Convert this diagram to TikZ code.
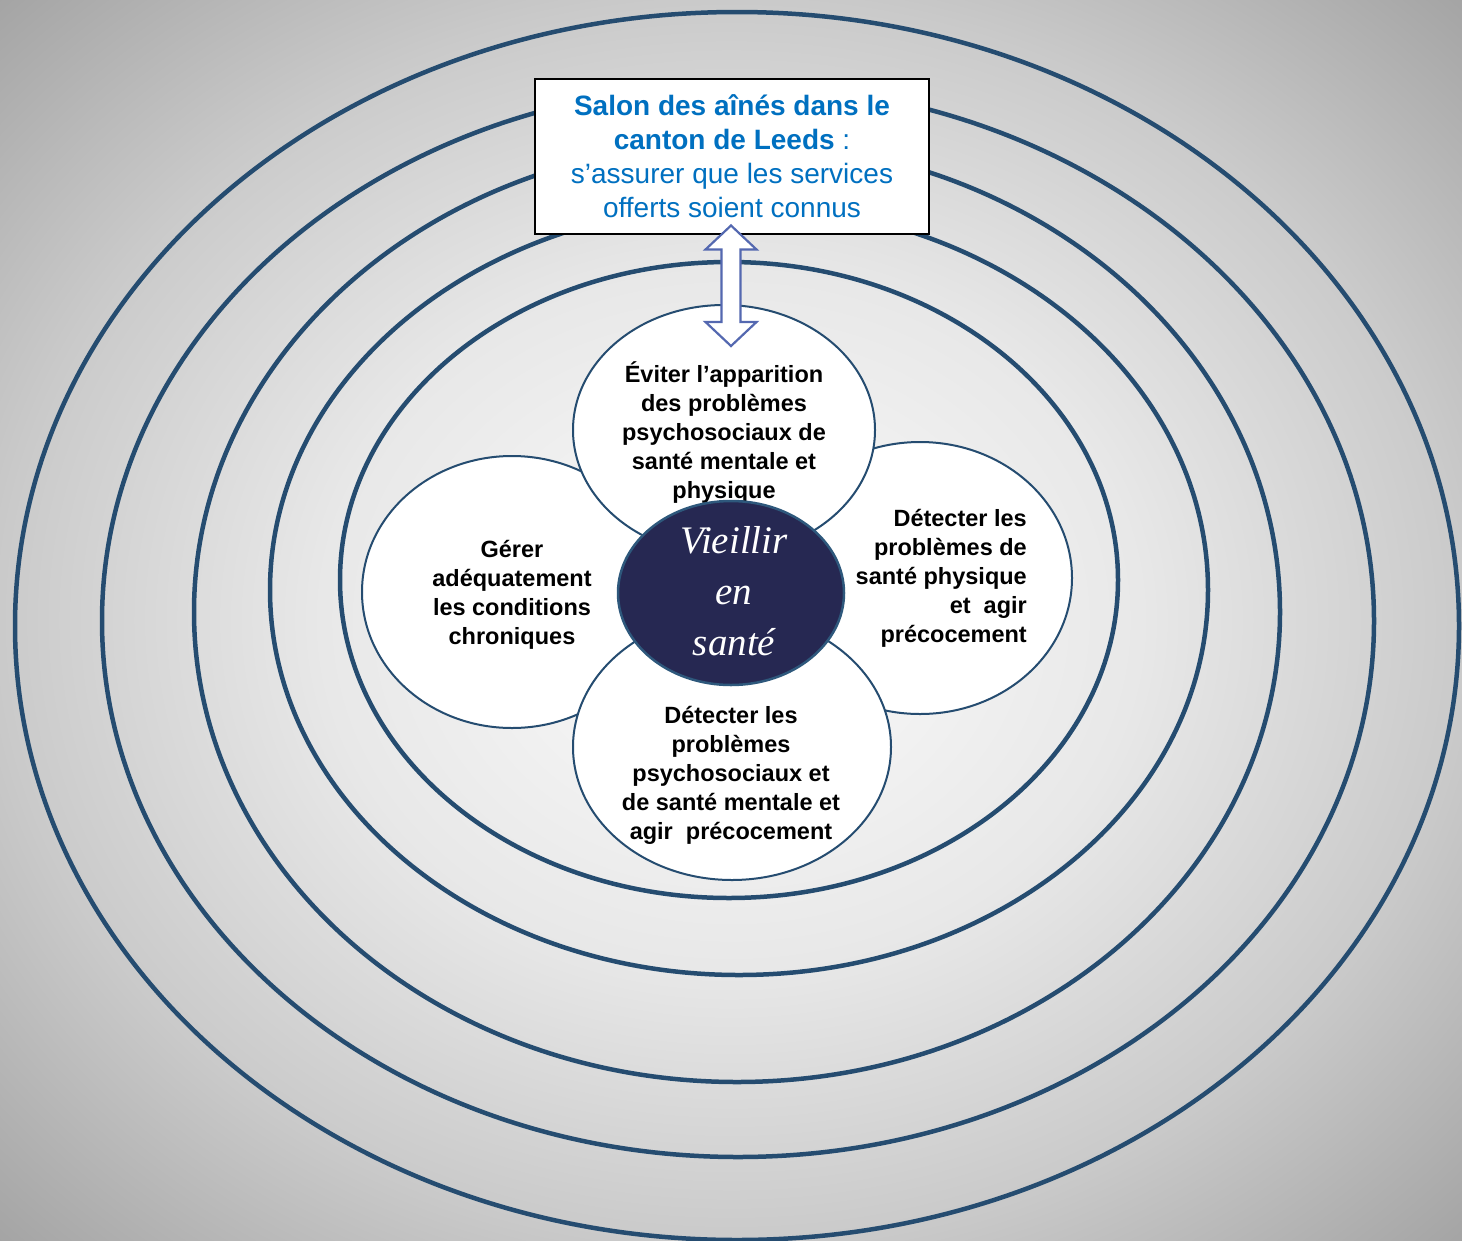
\documentclass[tikz,border=0pt]{standalone}
\usepackage{fontspec}
\setmainfont{Liberation Sans}
\newfontfamily\vfont{Liberation Serif}
\usetikzlibrary{shapes.geometric,calc}

\definecolor{ringc}{RGB}{37,76,112}
\definecolor{navy}{RGB}{38,40,82}
\definecolor{navyedge}{RGB}{46,88,124}
\definecolor{ttblue}{RGB}{0,112,192}
\definecolor{arrowc}{RGB}{84,104,176}
\definecolor{bgA}{RGB}{246,246,246}
\definecolor{bgB}{RGB}{242,242,242}
\definecolor{bgC}{RGB}{232,232,232}
\definecolor{bgD}{RGB}{202,202,202}
\definecolor{bgE}{RGB}{162,162,162}

% the path's bounding box maps onto the central 50bp x 50bp of the shading
\pgfdeclareradialshading{bgshade}{\pgfpoint{0bp}{0bp}}{color(0bp)=(bgA); color(7bp)=(bgB); color(14bp)=(bgC); color(25bp)=(bgD); color(36bp)=(bgE); color(50bp)=(bgE)}

\tikzset{
  ringline/.style={draw=ringc, line width=4.5pt},
  petal/.style={ellipse, draw=ringc, line width=2pt, fill=white, inner sep=0pt},
  petaltext/.style={font=\fontsize{23.5}{29}\selectfont\bfseries, align=center, inner sep=0pt},
  hub/.style={ellipse, draw=navyedge, line width=2.5pt, fill=navy, inner sep=0pt},
  hubtext/.style={font=\vfont\itshape\fontsize{39}{51}\selectfont, text=white, align=center, inner sep=0pt},
  titlebox/.style={draw=black, line width=2pt, fill=white, inner sep=0pt, align=center,
    font=\fontsize{28}{34}\selectfont, text=ttblue},
  arrowline/.style={draw=arrowc, line width=2.2pt, fill=white, line join=miter},
}

\begin{document}
\begin{tikzpicture}[x=1pt, y=-1pt]
\useasboundingbox (0,0) rectangle (1462,1240);
\shade[shading=bgshade] (0,0) rectangle (1462,1240);

% concentric rings
\draw[ringline] (737,626) ellipse [x radius=722pt, y radius=614pt];
\draw[ringline] (738,621) ellipse [x radius=636pt, y radius=536pt];
\draw[ringline] (737,612) ellipse [x radius=543pt, y radius=470pt];
\draw[ringline] (739,590) ellipse [x radius=469pt, y radius=385pt];
\draw[ringline] (729,580) ellipse [x radius=389pt, y radius=318pt];

% title box
\node[titlebox, minimum width=394pt, minimum height=155pt] (box) at (732,156.5)
  {{\bfseries Salon des aînés dans le}\\{\bfseries canton de Leeds} :\\s’assurer que les services\\offerts soient connus};

% petals
\node[petal, minimum width=300pt, minimum height=272pt] (pLeft) at (512,592) {};
\node[petaltext] (tLeft) at (512,595) {Gérer\\adéquatement\\les conditions\\chroniques};

\node[petal, minimum width=304pt, minimum height=272pt] (pRight) at (920,578) {};
\node[petaltext, align=right, anchor=east] (tRight) at (1027,578) {Détecter les\\problèmes de\\santé physique\\et\ \ agir\\précocement};

\node[petal, minimum width=302pt, minimum height=250pt] (pTop) at (724,430) {};
\node[petaltext] (tTop) at (724,433) {Éviter l’apparition\\des problèmes\\psychosociaux de\\santé mentale et\\physique};

\node[petal, minimum width=318pt, minimum height=266pt] (pBottom) at (732,747) {};
\node[petaltext] (tBottom) at (731,775) {Détecter les\\problèmes\\psychosociaux et\\de santé mentale et\\agir\ \ précocement};

% hub
\node[hub, minimum width=226pt, minimum height=184pt] (hub) at (731,593) {};
\node[hubtext] (tHub) at (734,591) {Vieillir\\en\\santé};

% double arrow between box and top petal
\coordinate (aT) at ($(box.south)+(-1,-9.5)$);
\coordinate (aB) at ($(pTop.north)+(7,42)$);
\draw[arrowline] (aT) -- ($(aT)+(25.5,24)$) -- ($(aT)+(9.5,24)$) -- ($(aB)+(9.5,-24)$)
  -- ($(aB)+(25.5,-24)$) -- (aB) -- ($(aB)+(-25.5,-24)$) -- ($(aB)+(-9.5,-24)$)
  -- ($(aT)+(-9.5,24)$) -- ($(aT)+(-25.5,24)$) -- cycle;
\end{tikzpicture}
\end{document}
